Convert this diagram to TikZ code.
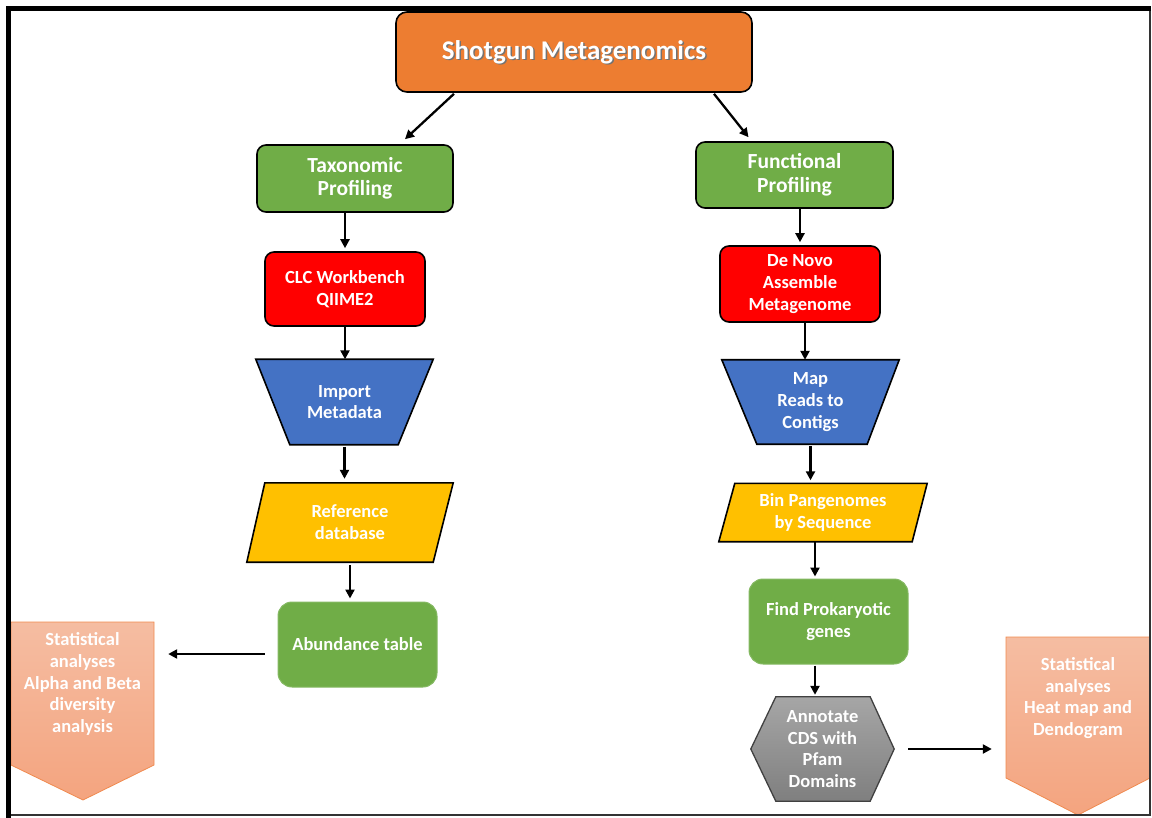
\documentclass[tikz,border=0pt]{standalone}
\usepackage{fontspec}
\setmainfont{Carlito}
\usetikzlibrary{arrows.meta,backgrounds}
\definecolor{cOrange}{HTML}{ED7D31}
\definecolor{cGreen}{HTML}{70AD47}
\definecolor{cRed}{HTML}{FF0000}
\definecolor{cBlue}{HTML}{4472C4}
\definecolor{cGold}{HTML}{FFC000}
\definecolor{cGrayTop}{HTML}{A6A6A6}
\definecolor{cGrayBot}{HTML}{7F7F7F}
\definecolor{cStatTop}{HTML}{F5BDA2}
\definecolor{cStatBot}{HTML}{F4A47F}
\definecolor{cStatLine}{HTML}{F08A4F}
\begin{document}
\begin{tikzpicture}[x=1pt,y=-1pt,
  txt/.style={text=white, font=\bfseries\fontsize{18.5}{21.8}\selectfont, align=center, inner sep=0pt},
  bigtxt/.style={font=\bfseries\fontsize{21.5}{23.5}\selectfont},
  box/.style={txt, rounded corners=9pt, draw=black, line width=1.6pt},
  softbox/.style={txt, rounded corners=14pt, fill=cGreen, draw=cGreen!85!white, line width=1pt},
  shapeline/.style={draw=black, line width=1.6pt, line join=miter},
  arr/.style={line width=2.3pt, -{Triangle[length=9pt,width=9pt]}},
]
\useasboundingbox (0,0) rectangle (1152,818);

% frame
\draw[line width=1.5pt, black!80] (1150,8.5) -- (1150,815) -- (8.5,815);
\draw[line width=5pt] (8.5,818) -- (8.5,8.5) -- (1151,8.5);

% title
\node[box, fill=cOrange, minimum width=356pt, minimum height=80pt, rounded corners=11pt] (title) at (574,52) {};
\node[txt, text=black!55, font=\bfseries\fontsize{27}{30}\selectfont] (titleshadow) at (575.5,53.5) {Shotgun Metagenomics};
\node[txt, font=\bfseries\fontsize{27}{30}\selectfont] (titletext) at (574,52) {Shotgun Metagenomics};

% left column
\node[box, bigtxt, fill=cGreen, minimum width=196pt, minimum height=67pt] (tax) at (355,178.5) {Taxonomic\\Profiling};
\node[box, fill=cRed, minimum width=160pt, minimum height=74pt] (clc) at (345,289) {CLC Workbench\\QIIME2};
\node[txt, minimum width=177pt, minimum height=85pt] (imp) at (344.5,402) {Import\\Metadata};
\node[txt, minimum width=206pt, minimum height=79pt] (ref) at (350,522.5) {Reference\\database};
\node[softbox, minimum width=159pt, minimum height=85pt] (abund) at (357.5,644.5) {Abundance table};
\node[txt, minimum width=143pt] (statL) at (82.5,684) {Statistical\\analyses\\Alpha and Beta\\diversity\\analysis};

% right column
\node[box, bigtxt, fill=cGreen, minimum width=197pt, minimum height=66pt] (func) at (794.5,175) {Functional\\Profiling};
\node[box, fill=cRed, minimum width=160pt, minimum height=76pt] (denovo) at (800,284) {De Novo\\Assemble\\Metagenome};
\node[txt, minimum width=177pt, minimum height=84pt] (map) at (810.5,402) {Map\\Reads to\\Contigs};
\node[txt, minimum width=208pt, minimum height=58pt] (bin) at (823,512.5) {Bin Pangenomes\\by Sequence};
\node[softbox, minimum width=159pt, minimum height=85pt] (find) at (828.5,621.5) {Find Prokaryotic\\genes};
\node[txt, minimum width=143pt, minimum height=104pt] (annot) at (822.5,749) {Annotate\\CDS with\\Pfam\\Domains};
\node[txt, minimum width=144pt] (statR) at (1078,698) {Statistical\\analyses\\Heat map and\\Dendogram};

% shapes behind the text
\begin{scope}[on background layer]
\draw[shapeline, fill=cBlue] (imp.north west) -- (imp.north east) -- ([xshift=-35pt]imp.south east) -- ([xshift=34pt]imp.south west) -- cycle;
\draw[shapeline, fill=cBlue] (map.north west) -- (map.north east) -- ([xshift=-32pt]map.south east) -- ([xshift=35pt]map.south west) -- cycle;
\draw[shapeline, fill=cGold] ([xshift=18pt]ref.north west) -- (ref.north east) -- ([xshift=-20pt]ref.south east) -- (ref.south west) -- cycle;
\draw[shapeline, fill=cGold] ([xshift=16pt]bin.north west) -- (bin.north east) -- ([xshift=-15pt]bin.south east) -- (bin.south west) -- cycle;
\shadedraw[top color=cGrayTop, bottom color=cGrayBot, draw=black!75, line width=1.3pt]
  ([xshift=25pt]annot.north west) -- ([xshift=-24pt]annot.north east) -- (annot.east) -- ([xshift=-24pt]annot.south east) -- ([xshift=25pt]annot.south west) -- (annot.west) -- cycle;
\shadedraw[top color=cStatTop, bottom color=cStatBot, draw=cStatLine, line width=0.8pt]
  (11,622) -- (154,622) -- (154,765) -- (83,800) -- (11,765) -- cycle;
\shadedraw[top color=cStatTop, bottom color=cStatBot, draw=cStatLine, line width=0.8pt]
  (1006,637) -- (1150,637) -- (1150,778) -- (1078,815) -- (1006,778) -- cycle;
\end{scope}

% connectors
\coordinate (abL) at ([yshift=-9.5pt]abund.west);
\draw[arr] ([xshift=-120pt,yshift=-1pt]title.south) -- ([xshift=50pt,yshift=5pt]tax.north);
\draw[arr] ([xshift=140pt,yshift=-1pt]title.south) -- ([xshift=-46pt,yshift=4pt]func.north);
\draw[arr, shorten >=3pt] (tax.south -| clc.north) -- (clc.north);
\draw[arr] (clc.south) -- (imp.north -| clc.south);
\draw[arr, shorten <=2pt, shorten >=4pt] (imp.south) -- (ref.north -| imp.south);
\draw[arr, shorten <=3pt, shorten >=3pt] (ref.south) -- (abund.north -| ref.south);
\draw[arr, shorten <=13pt, shorten >=14pt] (abL) -- (statL.east |- abL);
\draw[arr, shorten >=3pt] (func.south -| denovo.north) -- (denovo.north);
\draw[arr] ([xshift=5pt]denovo.south) -- ([xshift=-5.5pt]map.north);
\draw[arr, shorten <=2pt, shorten >=3pt] (map.south) -- (bin.north -| map.south);
\draw[arr, shorten >=2pt] ([xshift=-8pt]bin.south) -- ([xshift=-13.5pt]find.north);
\draw[arr, shorten <=1pt, shorten >=2pt] ([xshift=-13.5pt]find.south) -- ([xshift=-7.5pt]annot.north);
\draw[arr, shorten <=14pt, shorten >=14pt] (annot.east) -- (statR.west |- annot.east);
\end{tikzpicture}
\end{document}
